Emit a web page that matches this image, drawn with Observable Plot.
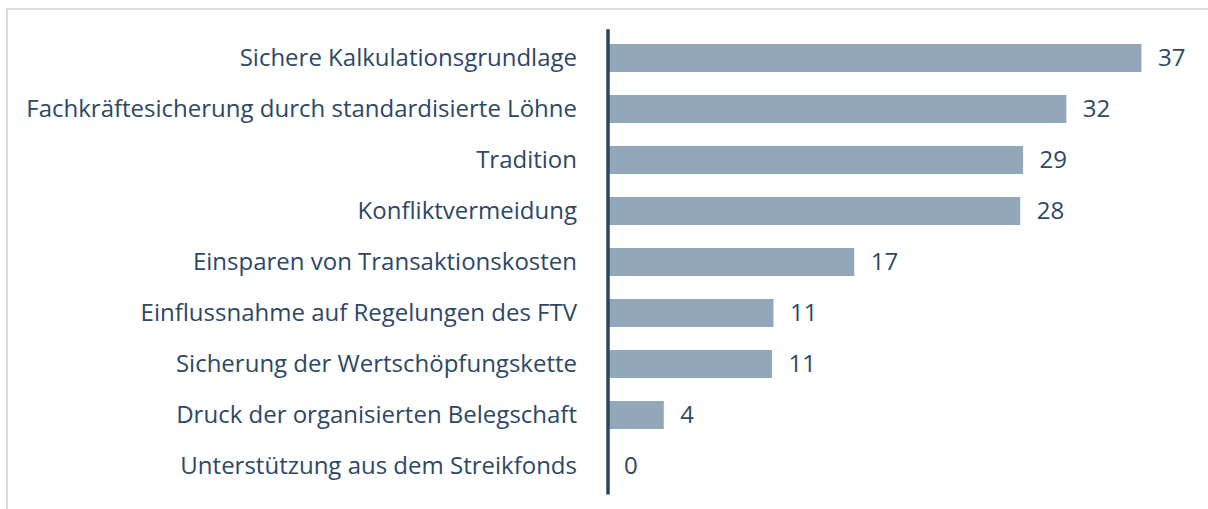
<!DOCTYPE html>
<html>
<head>
<meta charset="utf-8">
<script src="https://cdn.jsdelivr.net/npm/d3@7"></script>
<script src="https://cdn.jsdelivr.net/npm/@observablehq/plot@0.6"></script>
<style>
  html, body { margin: 0; padding: 0; background: #ffffff; overflow: hidden; }
  #wrap { position: relative; width: 1208px; height: 509px; overflow: hidden; }
  #frame { position: absolute; left: 6px; top: 7.5px; width: 1300px; height: 600px;
           border: 2px solid #dcdcdc; box-sizing: border-box; }
  #chart { position: absolute; left: 0; top: 0; }
</style>
</head>
<body>
<div id="wrap">
  <div id="frame"></div>
  <div id="chart"></div>
</div>
<script>
const categories = [
  "Sichere Kalkulationsgrundlage",
  "Fachkräftesicherung durch standardisierte Löhne",
  "Tradition",
  "Konfliktvermeidung",
  "Einsparen von Transaktionskosten",
  "Einflussnahme auf Regelungen des FTV",
  "Sicherung der Wertschöpfungskette",
  "Druck der organisierten Belegschaft",
  "Unterstützung aus dem Streikfonds"
];
const values = [37.0, 31.8, 28.8, 28.6, 17.1, 11.5, 11.4, 3.9, 0];
const valueLabels = ["37", "32", "29", "28", "17", "11", "11", "4", "0"];

const data = categories.map((c, i) => ({category: c, value: values[i], label: valueLabels[i]}));

const textColor = "#2d4865";

const chart = Plot.plot({
  width: 1208,
  height: 509,
  marginLeft: 607.5,
  marginRight: 23.3,
  marginTop: 29.2,
  marginBottom: 14.4,
  style: {fontFamily: "'Open Sans', sans-serif", fontSize: "24px", background: "transparent", color: textColor},
  x: {domain: [0, 40], axis: null},
  y: {domain: categories, paddingInner: 0.447, paddingOuter: 0.2235, axis: null},
  marks: [
    Plot.barX(data, {x: "value", y: "category", fill: "#93a7ba"}),
    Plot.text(data, {x: "value", y: "category", text: "label", textAnchor: "start", dx: 16, fill: textColor, fontSize: 24}),
    Plot.axisY({tickSize: 0, tickPadding: 31, label: null, color: textColor, fontSize: 24}),
    Plot.ruleX([0], {stroke: "#2b4560", strokeWidth: 3.5})
  ]
});
document.getElementById("chart").appendChild(chart);
</script>
</body>
</html>
